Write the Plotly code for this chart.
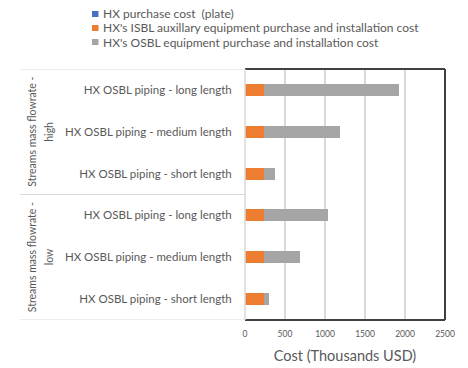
import plotly.graph_objects as go

# Cost breakdown per heat-exchanger scenario (thousands USD)
groups = ["Streams mass flowrate - high", "Streams mass flowrate - low"]
labels = [
    "HX OSBL piping - long length",
    "HX OSBL piping - medium length",
    "HX OSBL piping - short length",
    "HX OSBL piping - long length",
    "HX OSBL piping - medium length",
    "HX OSBL piping - short length",
]
series_names = [
    "HX purchase cost  (plate)",
    "HX's ISBL auxillary equipment purchase and installation cost",
    "HX's OSBL equipment purchase and installation cost",
]
hx_purchase = [2, 2, 2, 2, 2, 2]
isbl_aux = [230, 230, 230, 230, 230, 230]
osbl_equipment = [1690, 950, 140, 810, 450, 70]
x_ticks = [0, 500, 1000, 1500, 2000, 2500]

colors = ["#4472C4", "#ED7D31", "#A5A5A5"]
text_grey = "#595959"
font_family = "Lato, 'Open Sans', sans-serif"

W, H = 468, 368
L, R, T, B = 245, 23, 69, 48
plot_w = W - L - R
plot_h = H - T - B


def px_x(px):
    """Horizontal pixel position -> paper coordinate."""
    return (px - L) / plot_w


def px_y(py):
    """Vertical pixel position -> paper coordinate."""
    return 1 - (py - T) / plot_h


rows = list(range(len(labels)))

fig = go.Figure()
for name, vals, col in zip(series_names, [hx_purchase, isbl_aux, osbl_equipment], colors):
    fig.add_trace(go.Bar(
        x=vals, y=rows, name=name, orientation="h",
        marker=dict(color=col, line=dict(width=0)),
        showlegend=False,
    ))

shapes = []
annotations = []

# Legend drawn as swatches + labels stacked above the plot
for i, (name, col) in enumerate(zip(series_names, colors)):
    cy = 14 + i * 14
    shapes.append(dict(type="rect", xref="paper", yref="paper",
                       x0=px_x(92), x1=px_x(98.5), y0=px_y(cy - 3), y1=px_y(cy + 3),
                       fillcolor=col, line=dict(width=0)))
    annotations.append(dict(text=name, xref="paper", yref="paper",
                            x=px_x(101), y=px_y(cy), xanchor="left", yanchor="middle",
                            showarrow=False, font=dict(size=12, color=text_grey, family=font_family)))

# Group dividers on the category side
for yv in [-0.5, 2.5, 5.5]:
    shapes.append(dict(type="line", xref="paper", yref="y",
                       x0=px_x(20), x1=0, y0=yv, y1=yv,
                       line=dict(color="#d9d9d9", width=1.2)))

# Plot frame: dark on top/right/bottom, light on the left
shapes.append(dict(type="line", xref="paper", yref="paper", x0=0, x1=1, y0=1, y1=1,
                   line=dict(color="#404040", width=2)))
shapes.append(dict(type="line", xref="paper", yref="paper", x0=1, x1=1, y0=0, y1=1,
                   line=dict(color="#404040", width=2)))
shapes.append(dict(type="line", xref="paper", yref="paper", x0=0, x1=1, y0=0, y1=0,
                   line=dict(color="#404040", width=2)))
shapes.append(dict(type="line", xref="paper", yref="paper", x0=0, x1=0, y0=0, y1=1,
                   line=dict(color="#d9d9d9", width=1.5)))

# Rotated group labels
group_centers = [1, 4]
group_suffix = ["high", "low"]
for g, yc, suf in zip(groups, group_centers, group_suffix):
    prefix = g[: -len(suf)].rstrip()
    annotations.append(dict(text=prefix, xref="paper", yref="y", x=px_x(32), y=yc,
                            textangle=-90, showarrow=False, xanchor="center", yanchor="middle",
                            font=dict(size=10.5, color=text_grey, family=font_family)))
    annotations.append(dict(text=suf, xref="paper", yref="y", x=px_x(49), y=yc,
                            textangle=-90, showarrow=False, xanchor="center", yanchor="middle",
                            font=dict(size=10.5, color=text_grey, family=font_family)))

fig.update_layout(
    width=W, height=H, autosize=False,
    margin=dict(l=L, r=R, t=T, b=B),
    paper_bgcolor="white", plot_bgcolor="white",
    barmode="stack", bargap=0.71,
    showlegend=False,
    shapes=shapes, annotations=annotations,
    font=dict(family=font_family, color=text_grey),
    xaxis=dict(
        range=[0, 2500], tickvals=x_ticks, ticktext=[str(v) for v in x_ticks],
        showgrid=True, gridcolor="#d9d9d9", gridwidth=1.5,
        zeroline=False, showline=False, automargin=False,
        ticks="outside", ticklen=6, tickcolor="rgba(0,0,0,0)",
        tickfont=dict(size=8.5, color=text_grey, family=font_family),
        title=dict(text="Cost (Thousands USD)", standoff=12,
                   font=dict(size=14.5, color=text_grey, family=font_family)),
    ),
    yaxis=dict(
        range=[5.5, -0.5], tickvals=rows, ticktext=labels,
        showgrid=False, zeroline=False, showline=False, automargin=False,
        ticks="outside", ticklen=10, tickcolor="rgba(0,0,0,0)",
        tickfont=dict(size=11.5, color=text_grey, family=font_family),
    ),
)

fig.write_html("out.html")
